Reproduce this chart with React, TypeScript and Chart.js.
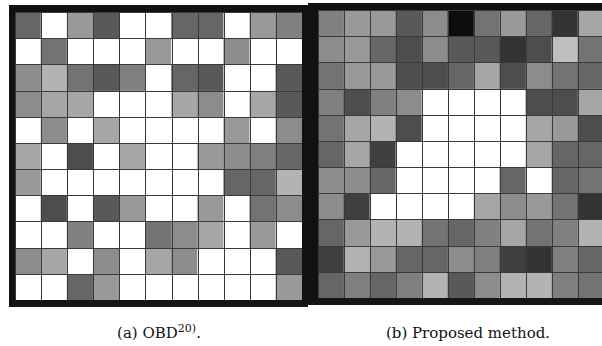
import React, { useEffect, useRef } from "react";
import { Chart, registerables } from "chart.js";

Chart.register(...registerables);

// Column / row labels of the 11 x 11 grids
const columnLabels = ["1", "2", "3", "4", "5", "6", "7", "8", "9", "10", "11"];
const rowLabels = ["1", "2", "3", "4", "5", "6", "7", "8", "9", "10", "11"];

// Darkness (0 = white, 1 = black) of each cell, read row by row from the top
const obdDarkness = [
  [0.6, 0, 0.4, 0.65, 0, 0, 0.6, 0.6, 0, 0.4, 0.5],
  [0, 0.55, 0, 0, 0, 0.4, 0, 0, 0.45, 0, 0],
  [0.45, 0.3, 0.55, 0.65, 0.5, 0, 0.6, 0.65, 0, 0, 0.65],
  [0.45, 0.35, 0.35, 0, 0, 0, 0.35, 0.45, 0, 0.35, 0.65],
  [0, 0.45, 0, 0.35, 0, 0, 0, 0, 0.4, 0, 0.45],
  [0.35, 0, 0.7, 0, 0.35, 0, 0, 0.4, 0.45, 0.5, 0.6],
  [0.4, 0, 0, 0, 0, 0, 0, 0, 0.6, 0.6, 0.3],
  [0, 0.7, 0, 0.65, 0.4, 0, 0, 0.4, 0, 0.55, 0.45],
  [0, 0, 0.5, 0, 0, 0.55, 0.45, 0.35, 0, 0.4, 0],
  [0.45, 0.35, 0, 0.45, 0, 0.35, 0.45, 0, 0, 0, 0.65],
  [0, 0, 0.6, 0.4, 0, 0, 0, 0, 0, 0, 0.4],
];

const proposedDarkness = [
  [0.5, 0.4, 0.4, 0.65, 0.45, 0.95, 0.55, 0.4, 0.6, 0.8, 0.35],
  [0.45, 0.4, 0.6, 0.7, 0.45, 0.65, 0.65, 0.8, 0.7, 0.25, 0.55],
  [0.55, 0.4, 0.4, 0.7, 0.7, 0.6, 0.35, 0.7, 0.45, 0.55, 0.6],
  [0.5, 0.7, 0.5, 0.45, 0, 0, 0, 0, 0.7, 0.7, 0.35],
  [0.55, 0.35, 0.3, 0.7, 0, 0, 0, 0, 0.35, 0.4, 0.7],
  [0.6, 0.35, 0.75, 0, 0, 0, 0, 0, 0.35, 0.6, 0.6],
  [0.45, 0.45, 0.6, 0, 0, 0, 0, 0.6, 0, 0.6, 0.55],
  [0.45, 0.75, 0, 0, 0, 0, 0.35, 0.45, 0.4, 0.55, 0.8],
  [0.6, 0.4, 0.3, 0.3, 0.55, 0.6, 0.5, 0.35, 0.55, 0.5, 0.3],
  [0.75, 0.3, 0.4, 0.6, 0.6, 0.45, 0.5, 0.75, 0.8, 0.5, 0.6],
  [0.6, 0.5, 0.6, 0.5, 0.3, 0.65, 0.45, 0.3, 0.3, 0.5, 0.55],
];

const captionA = "(a) OBD";
const captionASup = "20)";
const captionB = "(b) Proposed method.";

function grayOf(d: number): string {
  const g = Math.round(255 * (1 - d));
  return `rgb(${g},${g},${g})`;
}

// draws the cell separator lines on top of the cells, from the scales
const cellLinesPlugin = {
  id: "cellLines",
  afterDatasetsDraw(chart: any) {
    const { ctx, chartArea, scales } = chart;
    const x = scales.x;
    const y = scales.y;
    ctx.save();
    ctx.strokeStyle = "#3a3a3a";
    ctx.lineWidth = 1;
    ctx.beginPath();
    for (let i = 0; i <= columnLabels.length; i++) {
      const px = Math.round(x.getPixelForValue(i - 0.5)) + 0.5;
      ctx.moveTo(px, chartArea.top);
      ctx.lineTo(px, chartArea.bottom);
    }
    for (let j = 0; j <= rowLabels.length; j++) {
      const py = Math.round(y.getPixelForValue(j)) + 0.5;
      ctx.moveTo(chartArea.left, py);
      ctx.lineTo(chartArea.right, py);
    }
    ctx.stroke();
    ctx.restore();
  },
};

function GridChart({ matrix, w, h }: { matrix: number[][]; w: number; h: number }) {
  const ref = useRef<HTMLCanvasElement | null>(null);
  useEffect(() => {
    if (!ref.current) return;
    const chart = new Chart(ref.current, {
      type: "bar",
      data: {
        labels: columnLabels,
        datasets: rowLabels.map((_, ri) => ({
          label: "row " + rowLabels[ri],
          data: matrix[ri].map(() => [ri, ri + 1]) as any,
          backgroundColor: matrix[ri].map((v) => grayOf(v)),
          borderWidth: 0,
          barPercentage: 1,
          categoryPercentage: 1,
          grouped: false,
        })),
      },
      options: {
        animation: false,
        responsive: false,
        maintainAspectRatio: false,
        devicePixelRatio: 1,
        layout: { padding: 0 },
        plugins: { legend: { display: false }, tooltip: { enabled: false }, title: { display: false } },
        scales: {
          x: {
            type: "category",
            grid: { display: false, drawTicks: false },
            ticks: { display: false },
            border: { display: false },
          },
          y: {
            type: "linear",
            min: 0,
            max: rowLabels.length,
            reverse: true,
            grid: { display: false, drawTicks: false },
            ticks: { display: false, stepSize: 1 },
            border: { display: false },
          },
        },
      },
      plugins: [cellLinesPlugin],
    } as any);
    return () => chart.destroy();
  }, [matrix]);
  return <canvas ref={ref} width={w} height={h} style={{ display: "block", width: w, height: h }} />;
}

export default function App() {
  const captionStyle: React.CSSProperties = {
    position: "absolute",
    top: 324,
    textAlign: "center",
    fontFamily: "'DejaVu Serif', serif",
    fontSize: 15,
    lineHeight: "18px",
    color: "#111",
    whiteSpace: "nowrap",
  };
  return (
    <div
      style={{
        position: "fixed",
        left: 0,
        top: 0,
        width: 602,
        height: 346,
        overflow: "hidden",
        background: "#fff",
      }}
    >
      {/* Left panel frame */}
      <div
        style={{
          position: "absolute",
          left: 9,
          top: 5,
          width: 287,
          height: 288,
          borderLeft: "6px solid #111",
          borderTop: "7px solid #111",
          borderRight: "6px solid #111",
          borderBottom: "7px solid #151515",
        }}
      >
        <GridChart w={287} h={288} matrix={obdDarkness} />
      </div>
      {/* Right panel frame */}
      <div
        style={{
          position: "absolute",
          left: 308,
          top: 3,
          width: 290,
          height: 288,
          borderLeft: "10px solid #111",
          borderTop: "7px solid #111",
          borderBottom: "7px solid #151515",
        }}
      >
        <GridChart w={286} h={288} matrix={proposedDarkness} />
      </div>
      <div style={{ ...captionStyle, left: 0, width: 318 }}>
        {captionA}
        <sup style={{ fontSize: 11, lineHeight: 0 }}>{captionASup}</sup>.
      </div>
      <div style={{ ...captionStyle, left: 318, width: 300 }}>{captionB}</div>
    </div>
  );
}
